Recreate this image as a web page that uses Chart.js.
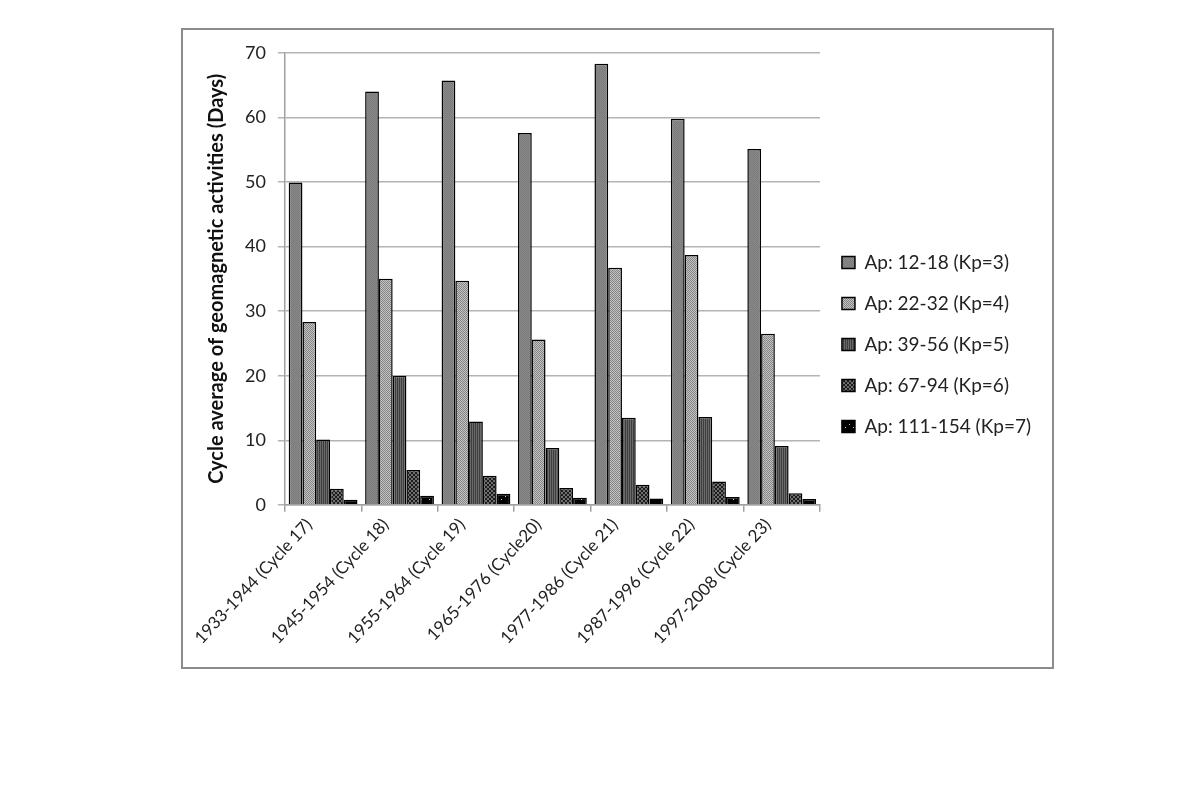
<!DOCTYPE html>
<html>
<head>
<meta charset="utf-8">
<script src="https://cdn.jsdelivr.net/npm/chart.js@4"></script>
<style>
  body { margin: 0; background: #fff; }
  #frame {
    position: absolute; left: 181px; top: 28px;
    width: 869px; height: 637px;
    border: 2px solid #8c8c8c;
  }
</style>
</head>
<body>
<div id="frame"><canvas id="geoChart"></canvas></div>
<script>
const cycles = ['1933-1944 (Cycle 17)', '1945-1954 (Cycle 18)', '1955-1964 (Cycle 19)',
  '1965-1976 (Cycle20)', '1977-1986 (Cycle 21)', '1987-1996 (Cycle 22)', '1997-2008 (Cycle 23)'];
const seriesNames = ['Ap: 12-18 (Kp=3)', 'Ap: 22-32 (Kp=4)', 'Ap: 39-56 (Kp=5)',
  'Ap: 67-94 (Kp=6)', 'Ap: 111-154 (Kp=7)'];
const kp3 = [49.9, 64.0, 65.7, 57.6, 68.3, 59.8, 55.1];
const kp4 = [28.3, 35.0, 34.7, 25.6, 36.7, 38.7, 26.5];
const kp5 = [10.1, 20.0, 12.9, 8.8, 13.5, 13.6, 9.1];
const kp6 = [2.5, 5.4, 4.5, 2.6, 3.1, 3.6, 1.8];
const kp7 = [0.8, 1.4, 1.7, 1.1, 1.0, 1.2, 0.9];
const yTicks = [0, 10, 20, 30, 40, 50, 60, 70];

const ctx = document.getElementById('geoChart').getContext('2d');

// small tiles for the grey hatch fills
function makePattern(size, bg, fg, dots) {
  const c = document.createElement('canvas');
  c.width = size; c.height = size;
  const g = c.getContext('2d');
  g.fillStyle = bg; g.fillRect(0, 0, size, size);
  g.fillStyle = fg;
  dots.forEach(d => g.fillRect(d[0], d[1], d[2] || 1, d[3] || 1));
  return ctx.createPattern(c, 'repeat');
}

const fills = [
  makePattern(2, '#7c7c7c', '#888888', [[0, 0], [1, 1]]),
  makePattern(2, '#848484', '#c4c4c4', [[0, 0], [1, 1]]),
  makePattern(2, '#3e3e3e', '#6a6a6a', [[1, 0, 1, 2]]),
  makePattern(4, '#1c1c1c', '#6e6e6e', [[0, 0, 2, 2], [2, 2, 2, 2]]),
  makePattern(8, '#000000', '#c8c8c8', [[2, 2], [6, 5]])
];

const allValues = [kp3, kp4, kp5, kp6, kp7];

const FONT = 'Lato, "Open Sans", sans-serif';

new Chart(ctx, {
  type: 'bar',
  data: {
    labels: cycles,
    datasets: allValues.map((vals, i) => ({
      label: seriesNames[i],
      data: vals,
      backgroundColor: fills[i],
      borderColor: '#000',
      borderWidth: 1.5,
      categoryPercentage: 0.9,
      barPercentage: 1.0
    }))
  },
  options: {
    responsive: true,
    maintainAspectRatio: false,
    animation: false,
    layout: { padding: { left: 22, top: 8, right: 11, bottom: 16 } },
    plugins: {
      tooltip: { enabled: false },
      legend: {
        position: 'right',
        maxWidth: 300,
        labels: {
          color: '#222',
          font: { family: FONT, size: 19 },
          boxWidth: 13,
          boxHeight: 12,
          padding: 22
        }
      }
    },
    scales: {
      x: {
        grid: { drawOnChartArea: false, drawTicks: true, tickLength: 7, color: '#a0a0a0', lineWidth: 1.5 },
        border: { color: '#a0a0a0', width: 1.5 },
        ticks: {
          color: '#222',
          font: { family: FONT, size: 17 },
          minRotation: 47, maxRotation: 47,
          labelOffset: -14,
          autoSkip: false
        }
      },
      y: {
        min: 0, max: 70,
        afterBuildTicks: axis => { axis.ticks = yTicks.map(v => ({ value: v })); },
        grid: { color: '#b4b4b4', lineWidth: 1.5, tickLength: 7 },
        border: { color: '#a0a0a0', width: 1.5 },
        ticks: { color: '#222', font: { family: FONT, size: 18 }, padding: 12 },
        title: {
          display: true,
          text: 'Cycle average of geomagnetic activities (Days)',
          color: '#111',
          font: { family: FONT, size: 20, weight: 'bold' },
          padding: { top: 0, bottom: 4 }
        }
      }
    }
  }
});
</script>
</body>
</html>
